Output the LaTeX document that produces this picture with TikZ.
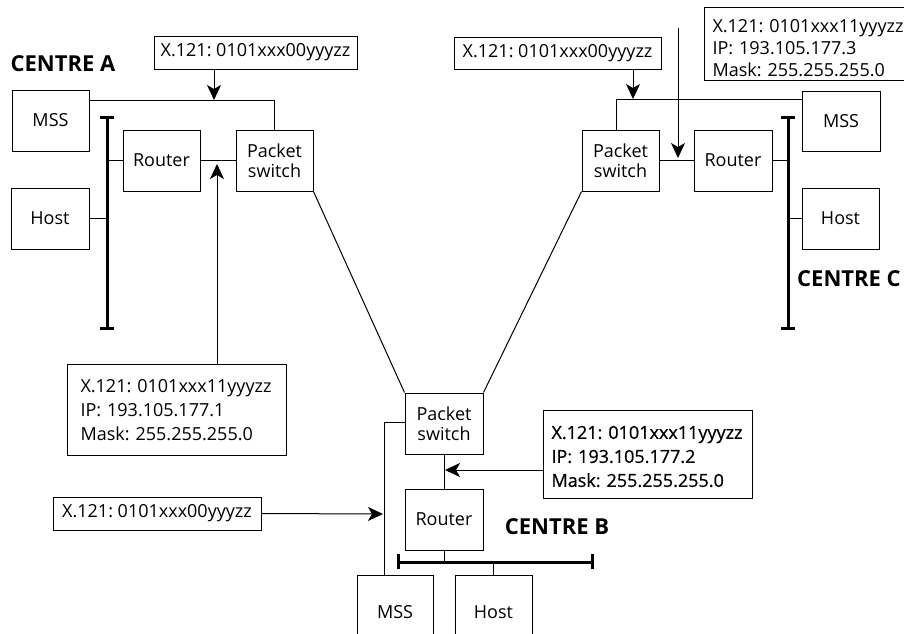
\documentclass[tikz,border=0pt]{standalone}
\usepackage{fontspec}
\setmainfont{Open Sans}
\usetikzlibrary{arrows.meta}
\frenchspacing
\begin{document}
\begin{tikzpicture}[x=1pt,y=-1pt,
  every node/.style={font=\fontsize{18}{20}\selectfont},
  box/.style={draw, line width=1pt, inner sep=0pt, align=center},
  infobox/.style={draw, line width=1pt, inner sep=0pt, align=left, anchor=north west},
  centrelbl/.style={font=\fontsize{22}{24}\selectfont\bfseries, inner sep=0pt},
  wire/.style={line width=1pt},
  bus/.style={line width=3pt},
  arr/.style={line width=1pt, -{Stealth[length=15pt,width=14pt,inset=4pt]}}
]
\useasboundingbox (0,0) rectangle (904,633);
\clip (0,0) rectangle (904,633);
\fill[white] (0,0) rectangle (904,633);

% ---------------- CENTRE A ----------------
\node[centrelbl] (centreA) at (63,64) {CENTRE A};
\node[box, minimum width=203pt, minimum height=33pt] (xa) at (255.5,52.5) {X.121: 0101xxx00yyyzz};
\node[box, minimum width=77pt, minimum height=61pt] (mssA) at (50.5,120.5) {MSS};
\node[box, minimum width=77pt, minimum height=61pt] (routerA) at (161.5,160.5) {Router};
\node[box, minimum width=77pt, minimum height=61pt] (psA) at (274.5,160.5) {Packet\\switch};
\node[box, minimum width=78pt, minimum height=61pt] (hostA) at (50,218.5) {Host};
\node[infobox, minimum width=219pt, minimum height=91pt, text width=193pt, inner xsep=13pt, inner ysep=0pt,
      font=\fontsize{18}{24}\selectfont] (ipA) at (67,364)
      {\rule{0pt}{12pt}X.121: 0101xxx11yyyzz\\IP: 193.105.177.1\\Mask: 255.255.255.0};

\coordinate (busAtop) at (107,117);
\coordinate (busAbot) at (107,328);
\draw[bus] (busAtop) -- (busAbot);
\draw[bus] ([xshift=-7pt]busAtop) -- ([xshift=7pt]busAtop);
\draw[bus] ([xshift=-7pt]busAbot) -- ([xshift=7pt]busAbot);

\coordinate (ja) at (214,100);
\draw[wire] (mssA.east |- ja) -| (psA.north);
\draw[arr] (ja |- xa.south) -- (ja);
\draw[wire] (routerA.west) -- (routerA.west -| busAtop);
\draw[wire] (hostA.east) -- (hostA.east -| busAtop);
\draw[wire] (routerA.east) -- (psA.west);
\coordinate (jb) at (217,164);
\draw[arr] (jb |- ipA.north) -- (jb);

% ---------------- CENTRE C ----------------
\node[box, minimum width=207pt, minimum height=32pt] (xb) at (557.5,53) {X.121: 0101xxx00yyyzz};
\node[box, minimum width=77pt, minimum height=61pt] (psC) at (620.5,160.5) {Packet\\switch};
\node[box, minimum width=78pt, minimum height=61pt] (routerC) at (733,160.5) {Router};
\node[box, minimum width=78pt, minimum height=60pt] (mssC) at (841,121) {MSS};
\node[box, minimum width=77pt, minimum height=61pt] (hostC) at (840.5,218.5) {Host};
\node[centrelbl, anchor=west] (centreC) at (797,279) {CENTRE C};
\node[infobox, minimum width=216pt, minimum height=73pt, text width=200pt, inner xsep=8pt, inner ysep=0pt,
      font=\fontsize{18}{22}\selectfont] (ipC) at (704,7)
      {\rule{0pt}{22pt}X.121: 0101xxx11yyyzz\\IP: 193.105.177.3\\Mask: 255.255.255.0};

\coordinate (busCtop) at (788,117);
\coordinate (busCbot) at (788,328);
\draw[bus] (busCtop) -- (busCbot);
\draw[bus] ([xshift=-7pt]busCtop) -- ([xshift=7pt]busCtop);
\draw[bus] ([xshift=-7pt]busCbot) -- ([xshift=7pt]busCbot);

\coordinate (jc) at (633,99);
\coordinate (jc2) at (616,99);
\draw[wire] (mssC.west |- jc) -- (jc2) -- (jc2 |- psC.north);
\draw[arr] (jc |- xb.south) -- (jc);
\draw[wire] (psC.east) -- (routerC.west);
\coordinate (jg) at (678,28);
\coordinate (jgt) at (678,158);
\draw[arr] (jg) -- (jgt);
\draw[wire] (routerC.east) -- (routerC.east -| busCtop);
\draw[wire] (hostC.west) -- (hostC.west -| busCtop);

% ---------------- CENTRE B ----------------
\node[box, minimum width=78pt, minimum height=61pt] (psB) at (444,423.5) {Packet\\switch};
\node[box, minimum width=78pt, minimum height=61pt] (routerB) at (444,519.5) {Router};
\node[box, minimum width=76pt, minimum height=75pt] (mssB) at (395,612.5) {MSS};
\node[box, minimum width=77pt, minimum height=75pt] (hostB) at (493.5,612.5) {Host};
\node[centrelbl] (centreB) at (557,527) {CENTRE B};
\node[box, minimum width=208pt, minimum height=33pt] (xc) at (157,513.5) {X.121: 0101xxx00yyyzz};
\node[infobox, minimum width=209pt, minimum height=88pt, text width=193pt, inner xsep=8pt, inner ysep=0pt,
      font=\fontsize{18}{24}\selectfont\addfontfeature{FakeBold=0.6}] (ipB) at (543,410)
      {\rule{0pt}{17pt}X.121: 0101xxx11yyyzz\\IP: 193.105.177.2\\Mask: 255.255.255.0};

\coordinate (busBl) at (398,562);
\coordinate (busBr) at (592,562);
\draw[bus] (busBl) -- (busBr);
\draw[bus] ([yshift=-7pt]busBl) -- ([yshift=8pt]busBl);
\draw[bus] ([yshift=-7pt]busBr) -- ([yshift=8pt]busBr);

\draw[wire] (psB.south) -- (routerB.north);
\draw[wire] (routerB.south) -- (routerB.south |- busBl);
\draw[wire] (hostB.north |- busBl) -- (hostB.north);
\coordinate (jd) at (384,422);
\draw[wire] (jd |- mssB.north) -- (jd) -- (jd -| psB.west);
\coordinate (je) at (383,514);
\draw[arr] (xc.east) -- (je);
\coordinate (jf) at (445,470);
\draw[arr] (ipB.west |- jf) -- (jf);

% ---------------- trunk links ----------------
\draw[wire] (psA.south east) -- (psB.north west);
\draw[wire] (psC.south west) -- (psB.north east);
\end{tikzpicture}
\end{document}
